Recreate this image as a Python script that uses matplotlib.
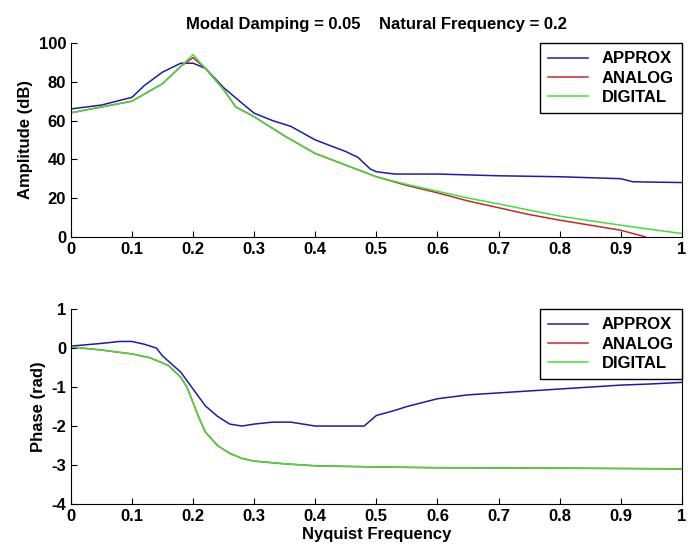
import matplotlib.pyplot as plt

plt.rcParams['font.family'] = ['Liberation Sans', 'DejaVu Sans']
plt.rcParams['font.weight'] = 'bold'
plt.rcParams['axes.unicode_minus'] = False

# Amplitude (dB)
amp_x_approx = [0, 0.05, 0.1, 0.12, 0.15, 0.18, 0.2, 0.22, 0.25, 0.28, 0.3, 0.33, 0.36,
                0.4, 0.45, 0.47, 0.49, 0.5, 0.53, 0.6, 0.7, 0.8, 0.9, 0.92, 1.0]
amp_approx = [66, 68, 72, 78, 85, 89.6, 89.6, 87, 77, 69, 63.8, 60, 57,
              50, 44, 41, 35, 33.6, 32.4, 32.4, 31.5, 31, 30, 28.4, 28]

amp_x_analog = [0, 0.05, 0.1, 0.15, 0.18, 0.2, 0.22, 0.25, 0.27, 0.3, 0.35, 0.4, 0.45,
                0.5, 0.55, 0.6, 0.65, 0.7, 0.75, 0.8, 0.85, 0.9, 0.94]
amp_analog = [64, 67, 70, 79, 88, 92.5, 87, 76, 67, 62, 52, 43, 37,
              31, 26.5, 22.7, 18.5, 15, 11.5, 8.6, 6, 3.4, 0]

amp_x_digital = [0, 0.05, 0.1, 0.15, 0.18, 0.2, 0.22, 0.25, 0.27, 0.3, 0.35, 0.4, 0.45,
                 0.5, 0.55, 0.6, 0.65, 0.7, 0.75, 0.8, 0.85, 0.9, 0.95, 1.0]
amp_digital = [64, 67, 70, 79, 88, 94, 87, 76, 67, 62, 52, 43, 37,
               31, 27, 23.5, 20, 17, 13.8, 10.7, 8.3, 6, 3.8, 1.7]

# Phase (rad)
ph_x_approx = [0, 0.05, 0.08, 0.1, 0.12, 0.14, 0.15, 0.18, 0.2, 0.22, 0.24, 0.26, 0.28,
               0.3, 0.33, 0.36, 0.38, 0.4, 0.47, 0.48, 0.5, 0.53, 0.55, 0.6, 0.65,
               0.7, 0.8, 0.85, 0.9, 0.95, 1.0]
ph_approx = [0.05, 0.12, 0.17, 0.17, 0.1, 0.0, -0.2, -0.62, -1.05, -1.48, -1.75, -1.95, -2.0,
             -1.95, -1.9, -1.9, -1.95, -2.0, -2.0, -2.0, -1.73, -1.6, -1.5, -1.3, -1.2,
             -1.15, -1.05, -1.0, -0.95, -0.92, -0.88]

ph_x_analog = [0, 0.05, 0.1, 0.13, 0.16, 0.18, 0.19, 0.2, 0.21, 0.22, 0.24, 0.26, 0.28,
               0.3, 0.35, 0.4, 0.5, 0.6, 0.8, 1.0]
ph_analog = [0.03, -0.05, -0.15, -0.25, -0.45, -0.75, -1.0, -1.4, -1.8, -2.15, -2.5, -2.7, -2.83,
             -2.9, -2.97, -3.02, -3.05, -3.07, -3.08, -3.1]
ph_x_digital = ph_x_analog
ph_digital = ph_analog

c_blue = '#1c1ca8'
c_red = '#c82828'
c_green = '#3ee03e'

fig = plt.figure(figsize=(6.88, 5.52), dpi=100)
ax1 = fig.add_axes([0.103, 0.571, 0.888, 0.351])
ax2 = fig.add_axes([0.103, 0.087, 0.888, 0.353])

ax1.plot(amp_x_approx, amp_approx, color=c_blue, lw=1.1, label='APPROX')
ax1.plot(amp_x_analog, amp_analog, color=c_red, lw=1.1, label='ANALOG')
ax1.plot(amp_x_digital, amp_digital, color=c_green, lw=1.1, label='DIGITAL')
ax1.set_ylim(0, 100)
ax1.set_ylabel('Amplitude (dB)', fontsize=12, fontweight='bold')
ax1.set_title('Modal Damping = 0.05    Natural Frequency = 0.2', fontsize=12,
              fontweight='bold', pad=10)

ax2.plot(ph_x_approx, ph_approx, color=c_blue, lw=1.1, label='APPROX')
ax2.plot(ph_x_analog, ph_analog, color=c_red, lw=1.1, label='ANALOG')
ax2.plot(ph_x_digital, ph_digital, color=c_green, lw=1.1, label='DIGITAL')
ax2.set_ylim(-4, 1)
ax2.set_ylabel('Phase (rad)', fontsize=12, fontweight='bold')
ax2.set_xlabel('Nyquist Frequency', fontsize=12, fontweight='bold', labelpad=2)

for ax in (ax1, ax2):
    ax.set_xlim(0, 1)
    ax.set_xticks([0, 0.1, 0.2, 0.3, 0.4, 0.5, 0.6, 0.7, 0.8, 0.9, 1])
    ax.set_xticklabels(['0', '0.1', '0.2', '0.3', '0.4', '0.5', '0.6', '0.7', '0.8', '0.9', '1'])
    ax.tick_params(direction='in', labelsize=12, length=4)
    ax.spines['top'].set_visible(False)
    leg = ax.legend(loc='upper right', borderaxespad=0, fontsize=12, fancybox=False,
                    framealpha=1, edgecolor='black', handlelength=2.4, labelspacing=0.25,
                    borderpad=0.5)
    leg.get_frame().set_linewidth(1.0)

fig.savefig('out.png', dpi=100)
